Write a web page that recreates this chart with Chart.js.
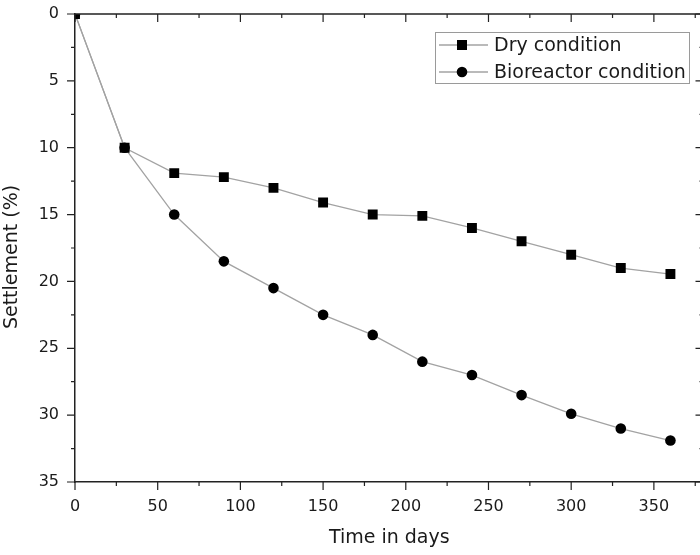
<!DOCTYPE html>
<html>
<head>
<meta charset="utf-8">
<script src="https://cdn.jsdelivr.net/npm/chart.js@4.4.1/dist/chart.umd.min.js"></script>
<style>
  html, body { margin: 0; padding: 0; background: #fff; overflow: hidden; }
  #wrap { width: 712px; height: 555px; }
</style>
</head>
<body>
<div id="wrap"><canvas id="c" width="712" height="555"></canvas></div>
<script>
// Settlement over time for two landfill operating modes
const days = [0, 30, 60, 90, 120, 150, 180, 210, 240, 270, 300, 330, 360];
const dryCondition = [0, 10, 11.9, 12.2, 13, 14.1, 15, 15.1, 16, 17, 18, 19, 19.45];
const bioreactorCondition = [0, 10, 15, 18.5, 20.5, 22.5, 24, 26, 27, 28.5, 29.9, 31, 31.9];

const xTickValues = [0, 50, 100, 150, 200, 250, 300, 350];
const yTickValues = [0, 5, 10, 15, 20, 25, 30, 35];
const seriesNames = ['Dry condition', 'Bioreactor condition'];
const yTitle = 'Settlement (%)';

const FONT = 'DejaVu Sans';
const AXIS = '#222';
const LINE = '#a3a3a3';
const TEXT = '#1a1a1a';

function toPoints(xs, ys) { return xs.map((x, i) => ({ x: x, y: ys[i] })); }

// Box frame, Origin-style major/minor ticks, y title and the legend
const framePlugin = {
  id: 'frame',
  afterDraw(chart) {
    const { ctx, chartArea: a, scales: { x, y } } = chart;
    ctx.save();
    ctx.strokeStyle = AXIS;
    ctx.lineWidth = 1.5;
    ctx.beginPath();
    ctx.moveTo(a.left, a.top); ctx.lineTo(a.right, a.top); ctx.lineTo(a.right, a.bottom);
    ctx.stroke();

    ctx.lineWidth = 1.2;
    ctx.beginPath();
    for (let v = 0; v <= x.max; v += 25) {
      const px = x.getPixelForValue(v);
      const len = v % 50 === 0 ? 8 : 4;
      ctx.moveTo(px, a.bottom); ctx.lineTo(px, a.bottom + len);   // bottom, outward
      ctx.moveTo(px, a.top); ctx.lineTo(px, a.top + len);         // top, inward
    }
    for (let v = 0; v <= 35; v += 2.5) {
      const py = y.getPixelForValue(v);
      const len = v % 5 === 0 ? 8 : 4;
      ctx.moveTo(a.left, py); ctx.lineTo(a.left - len, py);       // left, outward
      ctx.moveTo(a.right, py); ctx.lineTo(a.right - len, py);     // right, inward
    }
    ctx.stroke();

    // y axis title
    ctx.save();
    ctx.translate(12, 257);
    ctx.rotate(-Math.PI / 2);
    ctx.fillStyle = TEXT;
    ctx.font = '19px "' + FONT + '"';
    ctx.textAlign = 'center';
    ctx.textBaseline = 'middle';
    ctx.fillText(yTitle, 0, 0);
    ctx.restore();

    // legend
    const bx = 435, by = 32, bw = 254, bh = 51;
    ctx.strokeStyle = '#9a9a9a';
    ctx.lineWidth = 1;
    ctx.strokeRect(bx + 0.5, by + 0.5, bw, bh);
    const rows = [45, 72];
    chart.data.datasets.forEach((ds, i) => {
      const ry = rows[i];
      ctx.strokeStyle = LINE;
      ctx.lineWidth = 1.3;
      ctx.beginPath(); ctx.moveTo(439, ry); ctx.lineTo(488, ry); ctx.stroke();
      ctx.fillStyle = '#000';
      if (ds.pointStyle === 'rect') {
        ctx.fillRect(462 - 5, ry - 5, 10, 10);
      } else {
        ctx.beginPath(); ctx.arc(462, ry, 5.3, 0, Math.PI * 2); ctx.fill();
      }
      ctx.fillStyle = TEXT;
      ctx.font = '19px "' + FONT + '"';
      ctx.textBaseline = 'middle';
      ctx.textAlign = 'left';
      ctx.fillText(ds.label, 494, ry + 1);
    });
    ctx.restore();
  }
};

new Chart(document.getElementById('c'), {
  type: 'line',
  data: {
    datasets: [
      {
        label: seriesNames[0],
        data: toPoints(days, dryCondition),
        borderColor: LINE, borderWidth: 1.3,
        pointStyle: 'rect', pointRadius: 7,
        pointBackgroundColor: '#000', pointBorderColor: '#000', pointBorderWidth: 0,
        tension: 0, clip: 0
      },
      {
        label: seriesNames[1],
        data: toPoints(days, bioreactorCondition),
        borderColor: LINE, borderWidth: 1.3,
        pointStyle: 'circle', pointRadius: 5.3,
        pointBackgroundColor: '#000', pointBorderColor: '#000', pointBorderWidth: 0,
        tension: 0, clip: 0
      }
    ]
  },
  options: {
    responsive: false,
    animation: false,
    events: [],
    layout: { padding: { top: 14, right: 8.5, bottom: 0, left: 0 } },
    plugins: { legend: { display: false }, tooltip: { enabled: false } },
    scales: {
      x: {
        type: 'linear', min: 0, max: 380,
        afterBuildTicks: s => { s.ticks = xTickValues.map(v => ({ value: v })); },
        afterFit: s => { s.height = 73; s.paddingLeft = 0; s.paddingRight = 0; },
        grid: { display: false },
        border: { display: true, color: AXIS, width: 1.5 },
        ticks: { padding: 7, color: TEXT, font: { family: FONT, size: 16 } },
        title: { display: true, text: 'Time in days', color: TEXT,
                 font: { family: FONT, size: 19 }, padding: { top: 0, bottom: 6 } }
      },
      y: {
        type: 'linear', min: 0, max: 35, reverse: true,
        afterBuildTicks: s => { s.ticks = yTickValues.map(v => ({ value: v })); },
        afterFit: s => { s.width = 75; s.paddingTop = 0; s.paddingBottom = 0; },
        grid: { display: false },
        border: { display: true, color: AXIS, width: 1.5 },
        ticks: { padding: 8, color: TEXT, font: { family: FONT, size: 16 } },
        title: { display: false }
      }
    }
  },
  plugins: [framePlugin]
});
</script>
</body>
</html>
